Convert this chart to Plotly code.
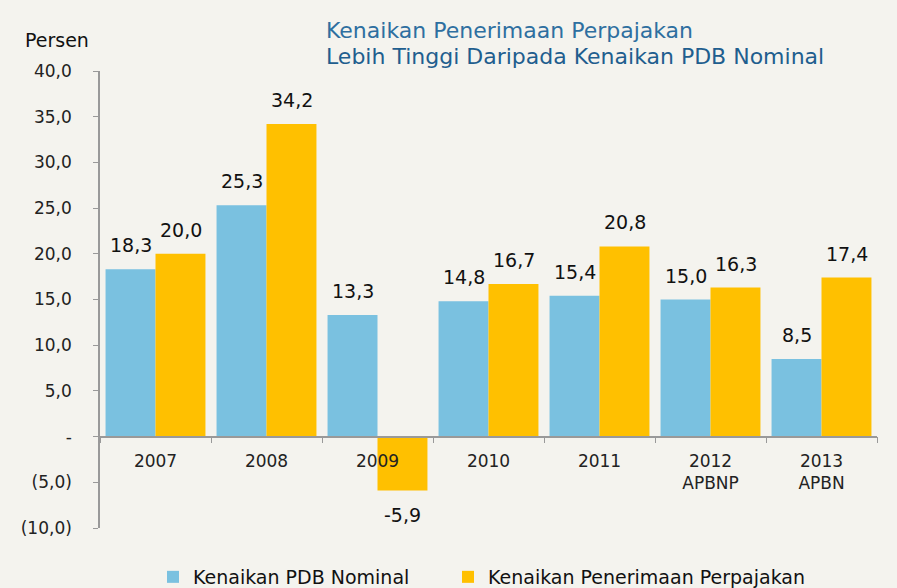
import plotly.graph_objects as go

categories = ["2007", "2008", "2009", "2010", "2011", "2012<br>APBNP", "2013<br>APBN"]
pdb_nominal = [18.3, 25.3, 13.3, 14.8, 15.4, 15.0, 8.5]
penerimaan_pajak = [20.0, 34.2, -5.9, 16.7, 20.8, 16.3, 17.4]
ytick_vals = [40, 35, 30, 25, 20, 15, 10, 5, 0, -5, -10]
ytick_text = ["40,0", "35,0", "30,0", "25,0", "20,0", "15,0", "10,0", "5,0", "-", "(5,0)", "(10,0)"]

BLUE = "#7AC1E0"
YELLOW = "#FFC000"
BG = "#F4F3EE"
FONT = "DejaVu Sans"


def fmt(v):
    return ("%.1f" % v).replace(".", ",")


fig = go.Figure()
fig.add_trace(go.Bar(x=categories, y=pdb_nominal, name="Kenaikan PDB Nominal",
                     marker_color=BLUE, marker_line_width=0, legend="legend"))
fig.add_trace(go.Bar(x=categories, y=penerimaan_pajak, name="Kenaikan Penerimaan Perpajakan",
                     marker_color=YELLOW, marker_line_width=0, legend="legend2"))

for series, shift in ((pdb_nominal, -25), (penerimaan_pajak, 25)):
    for i, v in enumerate(series):
        fig.add_annotation(x=i, y=v, xref="x", yref="y", text=fmt(v), showarrow=False,
                           xshift=shift, yshift=(11 if v >= 0 else -11),
                           yanchor=("bottom" if v >= 0 else "top"),
                           font=dict(family=FONT, size=19, color="#111111"))

fig.add_annotation(x=-0.055, y=1.068, xref="paper", yref="paper", text="Persen", showarrow=False,
                   xanchor="center", yanchor="middle",
                   font=dict(family=FONT, size=19, color="#111111"))
fig.add_annotation(text="Kenaikan Penerimaan Perpajakan",
                   xref="paper", yref="paper", x=(324 - 100) / 777, y=(528 - 31) / 457,
                   xanchor="left", yanchor="middle", showarrow=False,
                   font=dict(family=FONT, size=22, color="#2E6FA0"))
fig.add_annotation(text="Lebih Tinggi Daripada Kenaikan PDB Nominal",
                   xref="paper", yref="paper", x=(324 - 100) / 777, y=(528 - 56) / 457,
                   xanchor="left", yanchor="middle", showarrow=False,
                   font=dict(family=FONT, size=22, color="#1F5E8E"))

legend_common = dict(orientation="h", yanchor="bottom", y=-68 / 457,
                     font=dict(family=FONT, size=19, color="#111111"),
                     bgcolor="rgba(0,0,0,0)", borderwidth=0)

fig.update_layout(
    width=897, height=588,
    margin=dict(l=100, r=20, t=71, b=60, autoexpand=False),
    paper_bgcolor=BG, plot_bgcolor=BG,
    barmode="group", bargap=0.1, bargroupgap=0,
    font=dict(family=FONT, size=16, color="#222222"),
    showlegend=True,
    legend=dict(x=(153 - 100) / 777, xanchor="left", **legend_common),
    legend2=dict(x=(448 - 100) / 777, xanchor="left", **legend_common),
    xaxis=dict(type="category", range=[-0.5, 6.5], autorange=False, anchor="free",
               position=0.2, showline=True,
               linecolor="#999999", linewidth=1.5, ticks="outside", tickson="boundaries",
               ticklen=6, tickcolor="#999999", showgrid=False, zeroline=False,
               ticklabelstandoff=9,
               tickfont=dict(family=FONT, size=17, color="#222222")),
    yaxis=dict(range=[-10, 40], autorange=False, tickvals=ytick_vals, ticktext=ytick_text,
               showline=True, linecolor="#999999", linewidth=1.5, ticks="outside",
               ticklen=5, tickcolor="#999999", showgrid=False, zeroline=False,
               ticklabelstandoff=18,
               tickfont=dict(family=FONT, size=17, color="#222222")),
)

fig.write_html("out.html", config={"displayModeBar": False},
               post_script="document.body.style.margin='0';document.body.style.background='%s';" % BG)
